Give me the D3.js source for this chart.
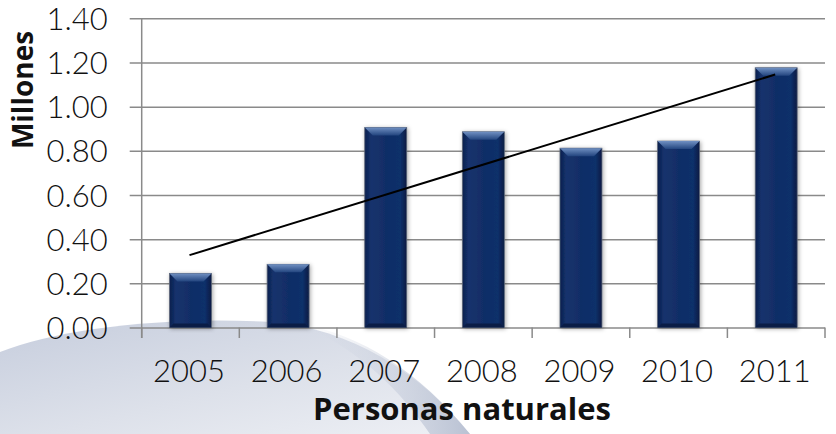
<!DOCTYPE html>
<html>
<head>
<meta charset="utf-8">
<script src="https://cdn.jsdelivr.net/npm/d3@7"></script>
<style>
  body { margin: 0; background: #fff; }
  text { font-family: "Open Sans", "DejaVu Sans", sans-serif; fill: #111; }
  .light { font-family: Lato, "Open Sans", sans-serif; font-weight: 300; }
</style>
</head>
<body>
<script>
// datos
var years = ["2005", "2006", "2007", "2008", "2009", "2010", "2011"];
var valores = [0.245, 0.286, 0.906, 0.886, 0.812, 0.844, 1.176];
var yTicks = [0, 0.2, 0.4, 0.6, 0.8, 1.0, 1.2, 1.4];
var yTitle = "Millones";
var xTitle = "Personas naturales";

var W = 836, H = 434;
var margin = {top: 18.3, right: 11, bottom: H - 327.5, left: 141.7},
    width = W - margin.left - margin.right,
    height = H - margin.top - margin.bottom;

var svg = d3.select("body").append("svg")
    .attr("width", W)
    .attr("height", H);

var defs = svg.append("defs");

// fondo: degradado del arco
var bg = defs.append("linearGradient").attr("id", "bgGrad")
    .attr("x1", "0").attr("y1", "0").attr("x2", "1").attr("y2", "1");
bg.append("stop").attr("offset", "0").attr("stop-color", "#c6cddd");
bg.append("stop").attr("offset", "0.55").attr("stop-color", "#dde1ea");
bg.append("stop").attr("offset", "1").attr("stop-color", "#eef0f5");

var rim = defs.append("linearGradient").attr("id", "rimGrad")
    .attr("x1", "0").attr("y1", "0").attr("x2", "1").attr("y2", "0");
rim.append("stop").attr("offset", "0").attr("stop-color", "#d6dbe6").attr("stop-opacity", 0);
rim.append("stop").attr("offset", "1").attr("stop-color", "#b3bccf").attr("stop-opacity", 0.9);

svg.append("path")
    .attr("d", "M0,352 C60,328 170,316 270,322 C350,328 420,372 470,434 L0,434 Z")
    .attr("fill", "url(#bgGrad)");
svg.append("path")
    .attr("d", "M300,324 C360,334 420,372 470,434 L430,434 C400,390 360,350 300,324 Z")
    .attr("fill", "url(#rimGrad)");

// degradados de las barras
var body = defs.append("linearGradient").attr("id", "barGrad")
    .attr("x1", "0").attr("y1", "0").attr("x2", "1").attr("y2", "0");
body.append("stop").attr("offset", "0").attr("stop-color", "#0a1f4d");
body.append("stop").attr("offset", "0.15").attr("stop-color", "#15336d");
body.append("stop").attr("offset", "0.5").attr("stop-color", "#112d66");
body.append("stop").attr("offset", "0.85").attr("stop-color", "#11306a");
body.append("stop").attr("offset", "1").attr("stop-color", "#081a42");

var bevel = defs.append("linearGradient").attr("id", "bevelGrad")
    .attr("x1", "0").attr("y1", "0").attr("x2", "0").attr("y2", "1");
bevel.append("stop").attr("offset", "0").attr("stop-color", "#7090c2");
bevel.append("stop").attr("offset", "1").attr("stop-color", "#23457f");

var shadow = defs.append("filter").attr("id", "shadow")
    .attr("x", "-20%").attr("y", "-10%").attr("width", "140%").attr("height", "120%");
shadow.append("feDropShadow").attr("dx", 1).attr("dy", 1)
    .attr("stdDeviation", 2).attr("flood-color", "#000").attr("flood-opacity", 0.35);

var g = svg.append("g")
    .attr("transform", "translate(" + margin.left + "," + margin.top + ")");

var x = d3.scaleBand().domain(years).range([0, width]).paddingInner(0.57).paddingOuter(0.285);
var xb = d3.scaleBand().domain(years).range([0, width]);
var y = d3.scaleLinear().domain([0, 1.4]).range([height, 0]);

// líneas de división
var yAxis = d3.axisLeft(y).tickValues(yTicks).tickSize(-width).tickFormat(d3.format(".2f"));
var gy = g.append("g").call(yAxis);
gy.select(".domain").remove();
gy.selectAll(".tick line").attr("x1", -12).attr("x2", width)
    .attr("stroke", "#8a8a8a").attr("stroke-width", 1.5);
gy.selectAll(".tick text").attr("x", -34).attr("dy", "0.36em")
    .attr("class", "light")
    .style("font-size", "31px").attr("fill", "#111");

// eje vertical
g.append("line")
    .attr("x1", 0).attr("x2", 0).attr("y1", 0).attr("y2", height + 10.5)
    .attr("stroke", "#8a8a8a").attr("stroke-width", 1.5);

// marcas de categoría
var cats = years.map(function (d) { return xb(d); }).concat([width]);
g.selectAll(".cat-tick").data(cats).enter().append("line")
    .attr("class", "cat-tick")
    .attr("x1", function (d) { return d; }).attr("x2", function (d) { return d; })
    .attr("y1", height).attr("y2", height + 10.5)
    .attr("stroke", "#8a8a8a").attr("stroke-width", 1.5);

// etiquetas de años
g.selectAll(".year").data(years).enter().append("text")
    .attr("class", "year light")
    .attr("x", function (d) { return xb(d) + xb.bandwidth() / 2 - 1.5; })
    .attr("y", 381.7 - margin.top)
    .attr("text-anchor", "middle")
    .style("font-size", "31px")
    .text(function (d) { return d; });

// barras
var bars = g.selectAll(".bar").data(valores).enter().append("g")
    .attr("class", "bar")
    .attr("transform", function (d, i) { return "translate(" + x(years[i]) + ",0)"; });

bars.append("rect")
    .attr("y", function (d) { return y(d); })
    .attr("width", x.bandwidth())
    .attr("height", function (d) { return height - y(d); })
    .attr("fill", "url(#barGrad)")
    .attr("stroke", "#5c6678").attr("stroke-width", 0.8)
    .attr("filter", "url(#shadow)");

var bw = x.bandwidth(), bv = 8;
bars.append("path")
    .attr("d", function (d) {
        var t = y(d);
        return "M0," + t + " L" + bw + "," + t + " L" + (bw - bv) + "," + (t + bv) +
            " L" + bv + "," + (t + bv) + " Z";
    })
    .attr("fill", "url(#bevelGrad)");
bars.append("path")
    .attr("d", function (d) {
        var b = height;
        return "M0," + b + " L" + bw + "," + b + " L" + (bw - 4) + "," + (b - 4) +
            " L4," + (b - 4) + " Z";
    })
    .attr("fill", "#0a1d46");

// línea de tendencia (regresión lineal)
var n = valores.length, mx = (n - 1) / 2, my = d3.mean(valores);
var sxy = d3.sum(valores, function (d, i) { return (i - mx) * (d - my); });
var sxx = d3.sum(valores, function (d, i) { return (i - mx) * (i - mx); });
var slope = sxy / sxx, icpt = my - slope * mx;
var trend = [0, n - 1].map(function (i) {
    return [xb(years[i]) + xb.bandwidth() / 2 - 1, y(icpt + slope * i)];
});
g.append("path")
    .attr("d", d3.line()(trend))
    .attr("stroke", "#000").attr("stroke-width", 2).attr("fill", "none");

// títulos
svg.append("text")
    .attr("transform", "translate(33,90) rotate(-90)")
    .attr("text-anchor", "middle")
    .style("font-size", "28px").style("font-weight", "bold")
    .text(yTitle);

svg.append("text")
    .attr("x", 462).attr("y", 420)
    .attr("text-anchor", "middle")
    .style("font-size", "31px").style("font-weight", "bold")
    .text(xTitle);
</script>
</body>
</html>
